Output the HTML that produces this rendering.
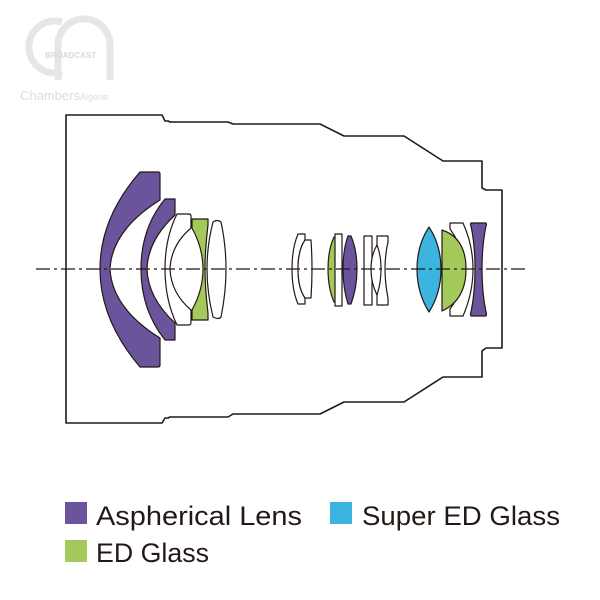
<!DOCTYPE html>
<html><head><style>html,body{margin:0;padding:0;background:#fff}svg{display:block}</style></head>
<body>
<svg width="600" height="600" viewBox="0 0 600 600" xmlns="http://www.w3.org/2000/svg" font-family="Liberation Sans, sans-serif">
<!-- watermark -->
<g fill="none" stroke="#e4e4e4" stroke-width="7" opacity="0.9">
<path d="M62 22 A26 26 0 1 0 62 72"/>
<path d="M58 80 V45 A26 26 0 0 1 110 45 V80"/>
</g>
<text x="45" y="58" font-size="8" fill="#d8d8d8" font-weight="bold">BROADCAST</text>
<text x="20" y="100" font-size="13" fill="#dcdcdc">Chambers<tspan font-size="9">Algérie</tspan></text>

<!-- barrel -->
<path d="M66 269 V115 H162 L165 121 H168 L170 122 H228 L233 124 H320 L344 136 H404 L443 161 H482 V188 L486 190 H502 V348 H486 L482 351 V377 H443 L404 402 H344 L320 414 H233 L228 417 H170 L168 418 L165 418 L162 423 H66 Z" fill="none" stroke="#231815" stroke-width="1.6" stroke-linejoin="round"/>

<g stroke="#231815" stroke-width="1.2" stroke-linejoin="round">
<!-- lens 1 purple -->
<path d="M140 172 H158 Q160 172 160 174 V200 Q112 230 110 269 Q112 308 160 338 V365 Q160 367 158 367 H140 Q100 320 100 269 Q100 218 140 172 Z" fill="#6a559d"/>
<!-- lens 2 purple -->
<path d="M165 199 H175 V215 Q148 240 147 269 Q148 298 175 323 V340 H165 Q141 310 141 269 Q141 228 165 199 Z" fill="#6a559d"/>
<!-- lens 3 white meniscus -->
<path d="M177 214 H189 Q191 214 191 216 V228 Q171 245 170 269 Q171 293 191 310 V322 Q191 325 189 325 H177 Q165 300 165 269 Q165 238 177 214 Z" fill="#fff"/>
<!-- green biconcave -->
<path d="M192 219 H208 V225 Q205 250 205 269 Q205 288 208 313 V320 H192 V310 Q203 290 203 269 Q203 248 192 228 Z" fill="#a3c95a"/>
<!-- white biconvex -->
<path d="M213 222 Q207 245 207 269 Q207 293 213 317 Q219 320 221 317 Q226 293 226 269 Q226 245 221 222 Q217 219 213 222 Z" fill="#fff"/>

<!-- middle group -->
<path d="M298 234 H305 V240 Q298 250 298 269 Q298 288 305 298 V304 H298 Q292 290 292 269 Q292 248 298 234 Z" fill="#fff"/>
<path d="M305 240 H311 Q312 255 312 269 Q312 283 311 298 H305 Q298 288 298 269 Q298 250 305 240 Z" fill="#fff"/>
<path d="M334 237 Q328 250 328 269 Q328 288 334 302 H337 V237 Z" fill="#a3c95a"/>
<path d="M335 234 H342 V306 H335 Z" fill="#fff"/>
<path d="M348 236 Q343 250 343 269 Q343 288 348 304 H351 Q357 288 357 269 Q357 250 351 236 Z" fill="#6a559d"/>
<path d="M364 236 H372 V305 H364 Z" fill="#fff"/>
<path d="M377 236 H388 V242 Q385 255 385 269 Q385 283 388 298 V305 H377 Z" fill="#fff"/>
<path d="M377 245 Q371 255 371 269 Q371 283 377 295 Q381 283 381 269 Q381 255 377 245 Z" fill="#fff"/>

<!-- rear group -->
<path d="M429 227 Q417 245 417 269 Q417 293 429 312 Q441 293 441 269 Q441 245 429 227 Z" fill="#3bb4e0"/>
<path d="M450 223 H463 Q473 245 473 269 Q473 293 463 316 H450 V309 Q464 290 464 269 Q464 248 450 229 Z" fill="#fff"/>
<path d="M442 230 Q466 238 466 269 Q466 300 442 311 Z" fill="#a3c95a"/>
<path d="M471 223 H486 Q487 224 486 226 Q482 245 482 269 Q482 293 486 312 Q487 315 486 316 H471 Q470 315 471 312 Q475 293 475 269 Q475 245 471 226 Q470 224 471 223 Z" fill="#6a559d"/>
</g>

<!-- axis -->
<line x1="36" y1="269" x2="528" y2="269" stroke="#231815" stroke-width="1.2" stroke-dasharray="14 4 3 4"/>

<!-- legend -->
<rect x="65" y="502" width="22" height="22" fill="#6a559d"/>
<text x="96" y="525" font-size="27" fill="#231815" textLength="206" lengthAdjust="spacingAndGlyphs">Aspherical Lens</text>
<rect x="330" y="502" width="22" height="22" fill="#3bb4e0"/>
<text x="362" y="525" font-size="27" fill="#231815" textLength="198" lengthAdjust="spacingAndGlyphs">Super ED Glass</text>
<rect x="65" y="540" width="22" height="22" fill="#a3c95a"/>
<text x="96" y="562" font-size="27" fill="#231815" textLength="113" lengthAdjust="spacingAndGlyphs">ED Glass</text>
</svg>
</body></html>
